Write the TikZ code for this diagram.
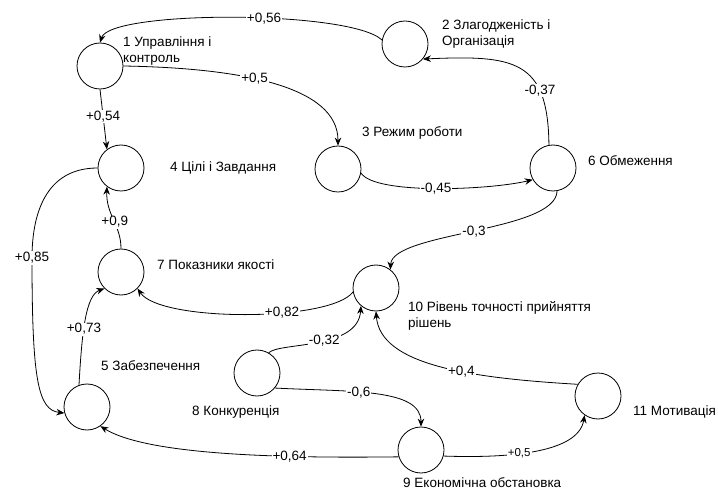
\documentclass[tikz,border=0pt]{standalone}
\usepackage{fontspec}
\setmainfont{Liberation Sans}
\usetikzlibrary{arrows.meta}

\tikzset{
  vert/.style={draw, circle, minimum size=46pt, inner sep=0pt, line width=0.8pt},
  ttl/.style={anchor=west, align=left, inner sep=0pt, font=\fontsize{13.5}{16}\selectfont},
  wt/.style={fill=white, inner sep=1pt, font=\fontsize{13.5}{16}\selectfont},
  conn/.style={line width=0.8pt, -{Stealth[length=8pt,width=6.5pt]}},
}

\begin{document}
\begin{tikzpicture}[x=1pt, y=-1pt]
  \useasboundingbox (0,0) rectangle (718,497);

  % vertices
  \foreach \n/\x/\y in {n1/100/66, n2/405/44, n3/338/169, n4/121/168, n5/87/407, n6/553/168,
                        n7/121/272, n8/257/373, n9/421/450, n10/376/288, n11/598/396}{
    \node[vert] (\n) at (\x,\y) {};
  }

  % titles
  \node[ttl] (t1) at (123,51) {1 Управління і\\контроль};
  \node[ttl] (t2) at (442,34) {2 Злагодженість і\\Організація};
  \node[ttl] (t3) at (362,133) {3 Режим роботи};
  \node[ttl] (t4) at (170,168) {4 Цілі і Завдання};
  \node[ttl] (t5) at (101,366) {5 Забезпечення};
  \node[ttl] (t6) at (588,161) {6 Обмеження};
  \node[ttl] (t7) at (157,265) {7 Показники якості};
  \node[ttl] (t8) at (192,412) {8 Конкуренція};
  \node[ttl] (t9) at (403,483) {9 Економічна обстановка};
  \node[ttl] (t10) at (408,316) {10 Рівень точності прийняття\\рішень};
  \node[ttl] (t11) at (633,412) {11 Мотивація};

  % links
  \draw[conn] (n2.170) .. controls (350,10) and (110,10) .. (n1.north) node[wt,pos=0.42] (w21) {+0,56};
  \draw[conn] (n1.east) .. controls (240,68) and (338,86) .. (n3.north) node[wt,pos=0.42] (w13) {+0,5};
  \draw[conn] (n1.south) -- (n4.127) node[wt,pos=0.45] (w14) {+0,54};
  \draw[conn] (n7.north) .. controls (121,225) and (106,215) .. (n4.233) node[wt,pos=0.45] (w74) {+0,9};
  \draw[conn] (n4.west) .. controls (45,168) and (32,215) .. (32,258) node[wt] (w45) {+0,85}
    .. controls (32,380) and (38,410) .. (n5.195);
  \draw[conn] (n5.110) .. controls (82,330) and (86,295) .. (n7.225) node[wt,pos=0.4] (w57) {+0,73};
  \draw[conn] (n10.190) .. controls (330,322) and (160,322) .. (n7.-45) node[wt,pos=0.37] (w107) {+0,82};
  \draw[conn] (n3.-10) .. controls (375,195) and (490,190) .. (n6.210) node[wt,pos=0.5] (w36) {-0,45};
  \draw[conn] (n6.100) .. controls (548,60) and (515,55) .. (n2.-40) node[wt,pos=0.28] (w62) {-0,37};
  \draw[conn] (n6.-80) .. controls (556,232) and (392,232) .. (n10.52) node[wt,pos=0.5] (w610) {-0,3};
  \draw[conn] (n8.60) .. controls (280,342) and (358,350) .. (n10.230) node[wt,pos=0.55] (w810) {-0,32};
  \draw[conn] (n11.150) .. controls (470,378) and (380,365) .. (n10.south) node[wt,pos=0.4] (w1110) {+0,4};
  \draw[conn] (n8.-40) .. controls (350,392) and (421,388) .. (n9.north) node[wt,pos=0.4] (w89) {-0,6};
  \draw[conn] (n9.197) .. controls (300,458) and (150,457) .. (n5.-55) node[wt,pos=0.33] (w95) {+0,64};
  \draw[conn] (n9.-15) .. controls (500,458) and (578,455) .. (n11.235)
    node[wt,pos=0.42,font=\fontsize{11.5}{13}\selectfont] (w911) {+0,5};
\end{tikzpicture}
\end{document}
